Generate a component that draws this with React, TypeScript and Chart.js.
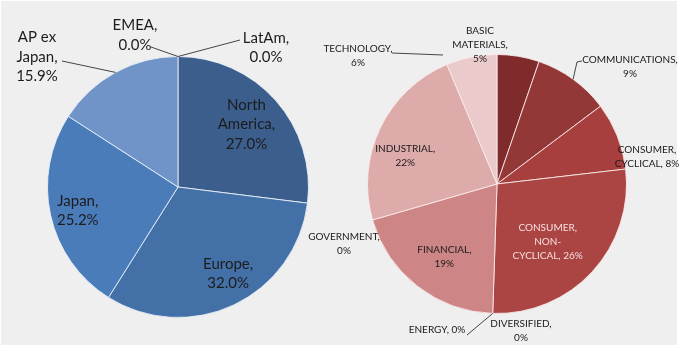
import React, { useEffect, useRef } from "react";
import { Chart, registerables } from "chart.js";

Chart.register(...registerables);

// ---- data ----
const regionNames = ["North America", "Europe", "Japan", "AP ex Japan", "EMEA", "LatAm"];
const regionShares = [27.0, 32.0, 25.2, 15.9, 0.0, 0.0];

const sectorNames = [
  "BASIC MATERIALS",
  "COMMUNICATIONS",
  "CONSUMER, CYCLICAL",
  "CONSUMER, NON-CYCLICAL",
  "DIVERSIFIED",
  "ENERGY",
  "FINANCIAL",
  "GOVERNMENT",
  "INDUSTRIAL",
  "TECHNOLOGY",
];
const sectorShares = [5, 9, 8, 26, 0, 0, 19, 0, 22, 6];

// ---- styles ----
const regionColors = ["#3b5e8d", "#4470a8", "#4a7cba", "#7194c8", "#8fb0dd", "#a7c1e6"];
const sectorColors = [
  "#7f2b2b",
  "#943737",
  "#a63f3d",
  "#ab4543",
  "#b85a58",
  "#c06a68",
  "#cd8585",
  "#d49898",
  "#deabab",
  "#eacaca",
];

type Leader = { edge: boolean; pts: [number, number][] };
type LabelSpec = {
  wrap: number[];
  mode: "in" | "abs";
  r?: number;
  dx: number;
  dy: number;
  color?: string;
  leader?: Leader;
};

const regionLayout: LabelSpec[] = [
  { wrap: [1, 1, 1], mode: "in", r: 0.7, dx: 0, dy: -2 },
  { wrap: [1, 1], mode: "in", r: 0.7, dx: 11, dy: 4 },
  { wrap: [1, 1], mode: "in", r: 0.7, dx: -11, dy: 4 },
  {
    wrap: [2, 1, 1],
    mode: "abs",
    dx: -141,
    dy: -130,
    leader: { edge: true, pts: [[-116, -126]] },
  },
  {
    wrap: [1, 1],
    mode: "abs",
    dx: -43,
    dy: -152,
    leader: { edge: true, pts: [[-27, -140]] },
  },
  {
    wrap: [1, 1],
    mode: "abs",
    dx: 88,
    dy: -139.5,
    leader: { edge: true, pts: [[62, -147]] },
  },
];

const sectorLayout: LabelSpec[] = [
  { wrap: [1, 1, 1], mode: "abs", dx: -17, dy: -139 },
  {
    wrap: [1, 1],
    mode: "abs",
    dx: 133,
    dy: -117,
    leader: { edge: true, pts: [[80, -122], [85, -123]] },
  },
  { wrap: [1, 2], mode: "abs", dx: 150, dy: -27.5 },
  { wrap: [1, 1, 2], mode: "in", r: 0.7, dx: -16, dy: -3.5, color: "#f6dede" },
  { wrap: [1, 1], mode: "abs", dx: 24, dy: 147 },
  {
    wrap: [2],
    mode: "abs",
    dx: -60,
    dy: 146,
    leader: { edge: true, pts: [[-30, 151]] },
  },
  { wrap: [1, 1], mode: "in", r: 0.7, dx: 3, dy: 1.5 },
  { wrap: [1, 1], mode: "abs", dx: -153, dy: 60 },
  { wrap: [1, 1], mode: "in", r: 0.7, dx: -10, dy: 10.5 },
  {
    wrap: [1, 1],
    mode: "abs",
    dx: -139,
    dy: -128.5,
    leader: { edge: false, pts: [[-105, -131], [-54, -129]] },
  },
];

function tokenize(text: string): string[] {
  const out: string[] = [];
  text.split(" ").forEach((w) => {
    const parts = w.split("-");
    parts.forEach((p, i) => {
      if (i < parts.length - 1) out.push(p + "-");
      else if (p.length) out.push(p);
    });
  });
  return out;
}

function wrapLines(text: string, wrap: number[]): string[] {
  const toks = tokenize(text);
  const lines: string[] = [];
  let k = 0;
  wrap.forEach((n) => {
    let line = "";
    for (let i = 0; i < n && k < toks.length; i++, k++) {
      const t = toks[k];
      if (line === "") line = t;
      else if (line.endsWith("-")) line += t;
      else line += " " + t;
    }
    lines.push(line);
  });
  while (k < toks.length) {
    lines.push(toks[k]);
    k++;
  }
  return lines;
}

function makeLabelPlugin(
  id: string,
  texts: string[],
  layout: LabelSpec[],
  font: string,
  lineH: number,
  color: string
) {
  return {
    id,
    afterDatasetsDraw(chart: any) {
      const meta = chart.getDatasetMeta(0);
      const ctx = chart.ctx as CanvasRenderingContext2D;
      ctx.save();
      meta.data.forEach((arc: any, i: number) => {
        const spec = layout[i];
        if (!spec) return;
        const { x, y, startAngle, endAngle, outerRadius } = arc.getProps(
          ["x", "y", "startAngle", "endAngle", "outerRadius"],
          true
        );
        const mid = (startAngle + endAngle) / 2;
        let px: number;
        let py: number;
        if (spec.mode === "in") {
          const rr = (spec.r ?? 0.65) * outerRadius;
          px = x + Math.cos(mid) * rr + spec.dx;
          py = y + Math.sin(mid) * rr + spec.dy;
        } else {
          px = x + spec.dx;
          py = y + spec.dy;
        }
        if (spec.leader) {
          ctx.beginPath();
          ctx.strokeStyle = "#444";
          ctx.lineWidth = 1;
          const pts: [number, number][] = [];
          if (spec.leader.edge) {
            pts.push([x + Math.cos(mid) * outerRadius, y + Math.sin(mid) * outerRadius]);
          }
          spec.leader.pts.forEach(([a, b]) => pts.push([x + a, y + b]));
          pts.forEach(([a, b], j) => (j === 0 ? ctx.moveTo(a, b) : ctx.lineTo(a, b)));
          ctx.stroke();
        }
        const lines = wrapLines(texts[i], spec.wrap);
        ctx.font = font;
        ctx.fillStyle = spec.color ?? color;
        ctx.textAlign = "center";
        ctx.textBaseline = "middle";
        const top = py - ((lines.length - 1) * lineH) / 2;
        lines.forEach((ln, j) => ctx.fillText(ln, px, top + j * lineH));
      });
      ctx.restore();
    },
  };
}

export default function App() {
  const leftRef = useRef<HTMLCanvasElement | null>(null);
  const rightRef = useRef<HTMLCanvasElement | null>(null);

  useEffect(() => {
    document.body.style.margin = "0";
    const regionTexts = regionNames.map((n, i) => `${n}, ${regionShares[i].toFixed(1)}%`);
    const sectorTexts = sectorNames.map((n, i) => `${n}, ${sectorShares[i]}%`);

    const common = {
      responsive: false,
      animation: false as const,
      events: [] as any[],
      plugins: { legend: { display: false }, tooltip: { enabled: false } },
    };

    const left = new Chart(leftRef.current as HTMLCanvasElement, {
      type: "pie",
      data: {
        labels: regionNames,
        datasets: [
          {
            data: regionShares,
            backgroundColor: regionColors,
            borderColor: "rgba(235,242,250,0.85)",
            borderWidth: 1,
          },
        ],
      },
      options: {
        ...common,
        layout: { padding: { left: 47, right: 370, top: 56, bottom: 30 } },
      } as any,
      plugins: [
        makeLabelPlugin("regionLabels", regionTexts, regionLayout, "15px Lato", 19.5, "#1c1c1c"),
      ],
    });

    const right = new Chart(rightRef.current as HTMLCanvasElement, {
      type: "pie",
      data: {
        labels: sectorNames,
        datasets: [
          {
            data: sectorShares,
            backgroundColor: sectorColors,
            borderColor: "rgba(250,235,235,0.85)",
            borderWidth: 1,
          },
        ],
      },
      options: {
        ...common,
        layout: { padding: { left: 367, right: 52, top: 54, bottom: 34 } },
      } as any,
      plugins: [
        makeLabelPlugin("sectorLabels", sectorTexts, sectorLayout, "10px Lato", 14, "#1a1a1a"),
      ],
    });

    return () => {
      left.destroy();
      right.destroy();
    };
  }, []);

  return (
    <div style={{ position: "absolute", left: 0, top: 0, width: 679, height: 348, background: "#ffffff" }}>
      <div style={{ position: "absolute", left: 1, top: 1, width: 676, height: 344, background: "#efefef" }} />
      <canvas ref={leftRef} width={679} height={348} style={{ position: "absolute", left: 0, top: 0 }} />
      <canvas ref={rightRef} width={679} height={348} style={{ position: "absolute", left: 0, top: 0 }} />
    </div>
  );
}
